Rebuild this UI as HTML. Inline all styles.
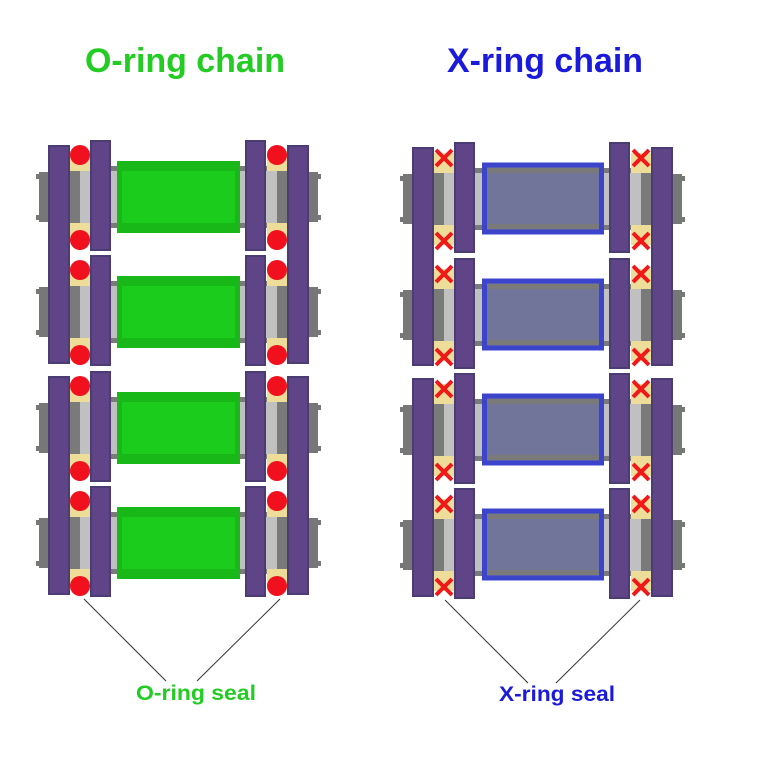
<!DOCTYPE html>
<html><head><style>html,body{margin:0;padding:0;background:#fff}svg{display:block}</style></head>
<body>
<svg width="758" height="758" viewBox="0 0 758 758" xmlns="http://www.w3.org/2000/svg" font-family="Liberation Sans, sans-serif" font-weight="bold">
<defs>
<g id="pins">
  <rect x="39" y="11" width="9" height="50" fill="#777"/>
  <rect x="36" y="13" width="12" height="5" fill="#777"/>
  <rect x="36" y="54" width="12" height="5" fill="#777"/>
  <rect x="309" y="11" width="9" height="50" fill="#777"/>
  <rect x="309" y="13" width="12" height="5" fill="#777"/>
  <rect x="309" y="54" width="12" height="5" fill="#777"/>
  <rect x="70" y="5" width="217" height="62" fill="#7a7a7a"/>
  <rect x="80" y="10" width="197" height="52" fill="#c0c0c0"/>
  <rect x="70" y="-10" width="20" height="20" fill="#eedd99"/>
  <rect x="70" y="62" width="20" height="20" fill="#eedd99"/>
  <rect x="267" y="-10" width="20" height="20" fill="#eedd99"/>
  <rect x="267" y="62" width="20" height="20" fill="#eedd99"/>
  <rect x="74" y="10" width="16" height="52" fill="#7a7a7a"/>
  <rect x="80" y="10" width="10" height="52" fill="#c0c0c0"/>
  <rect x="267" y="10" width="16" height="52" fill="#7a7a7a"/>
  <rect x="267" y="10" width="10" height="52" fill="#c0c0c0"/>
  <rect x="91" y="-20" width="19" height="109" fill="#5f4487" stroke="#4b3d73" stroke-width="2"/>
  <rect x="246" y="-20" width="19" height="109" fill="#5f4487" stroke="#4b3d73" stroke-width="2"/>
</g>
<g id="orow">
  <use href="#pins"/>
  <circle cx="80" cy="-6" r="10" fill="#f0101e"/>
  <circle cx="80" cy="79" r="10" fill="#f0101e"/>
  <circle cx="277" cy="-6" r="10" fill="#f0101e"/>
  <circle cx="277" cy="79" r="10" fill="#f0101e"/>
  <rect x="117" y="0" width="123" height="72" fill="#18b818"/>
  <rect x="122" y="10" width="113" height="52" fill="#1ccc1c"/>
</g>
<g id="x1" stroke="#f01818" stroke-width="4" fill="none">
  <path d="M-8,-8 L8,8 M8,-8 L-8,8"/>
</g>
<g id="xrow">
  <use href="#pins"/>
  <use href="#x1" x="80" y="-5"/>
  <use href="#x1" x="80" y="78"/>
  <use href="#x1" x="277" y="-5"/>
  <use href="#x1" x="277" y="78"/>
  <rect x="120.5" y="2" width="117" height="67" fill="#72759a" stroke="#3d44cc" stroke-width="5"/>
  <rect x="123" y="5" width="112" height="5" fill="#7a7a7a"/>
  <rect x="123" y="61" width="112" height="5" fill="#7a7a7a"/>
</g>
</defs>

<text x="185" y="72" font-size="34" fill="#22cc22" text-anchor="middle" textLength="200" lengthAdjust="spacingAndGlyphs">O-ring chain</text>
<text x="545" y="72" font-size="34" fill="#1a1adc" text-anchor="middle" textLength="196" lengthAdjust="spacingAndGlyphs">X-ring chain</text>

<g>
  <use href="#orow" y="161"/>
  <use href="#orow" y="276"/>
  <use href="#orow" y="392"/>
  <use href="#orow" y="507"/>
  <rect x="49" y="146" width="20" height="217" fill="#5f4487" stroke="#4b3d73" stroke-width="2"/>
  <rect x="49" y="377" width="20" height="217" fill="#5f4487" stroke="#4b3d73" stroke-width="2"/>
  <rect x="288" y="146" width="20" height="217" fill="#5f4487" stroke="#4b3d73" stroke-width="2"/>
  <rect x="288" y="377" width="20" height="217" fill="#5f4487" stroke="#4b3d73" stroke-width="2"/>
</g>
<g transform="translate(364,0)">
  <use href="#xrow" y="163"/>
  <use href="#xrow" y="279"/>
  <use href="#xrow" y="394"/>
  <use href="#xrow" y="509"/>
  <rect x="49" y="148" width="20" height="217" fill="#5f4487" stroke="#4b3d73" stroke-width="2"/>
  <rect x="49" y="379" width="20" height="217" fill="#5f4487" stroke="#4b3d73" stroke-width="2"/>
  <rect x="288" y="148" width="20" height="217" fill="#5f4487" stroke="#4b3d73" stroke-width="2"/>
  <rect x="288" y="379" width="20" height="217" fill="#5f4487" stroke="#4b3d73" stroke-width="2"/>
</g>

<g stroke="#333" stroke-width="1" fill="none">
  <path d="M166,681 L84,599 M197,681 L280,599"/>
  <path d="M528,683 L445,600 M556,683 L640,600"/>
</g>
<text x="196" y="700" font-size="21" fill="#22cc22" text-anchor="middle" textLength="120" lengthAdjust="spacingAndGlyphs">O-ring seal</text>
<text x="557" y="701" font-size="21" fill="#1a1adc" text-anchor="middle" textLength="116" lengthAdjust="spacingAndGlyphs">X-ring seal</text>
</svg>
</body></html>
